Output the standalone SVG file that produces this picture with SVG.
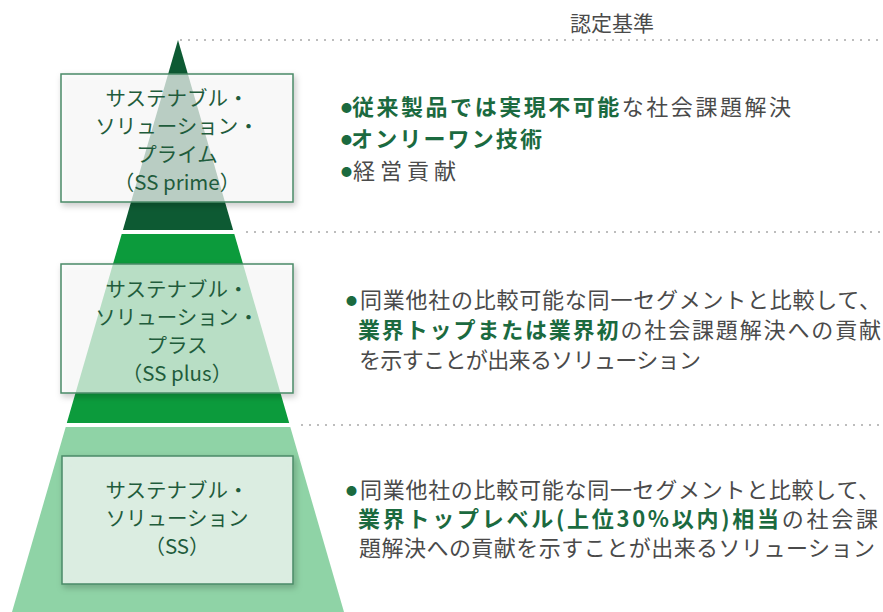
<svg xmlns="http://www.w3.org/2000/svg" width="883" height="612" viewBox="0 0 883 612">
<defs>
<style>
.t{font-family:"Noto Sans CJK JP","Noto Sans",sans-serif;}
.box{fill:#ffffff;fill-opacity:0.68;stroke:#4b8b68;stroke-width:1.5;}
.bt{font-size:20.5px;font-weight:normal;fill:#1f5c3c;text-anchor:middle;}
.rt{font-size:22px;fill:#4a4a4a;}
.b{font-weight:bold;fill:#1b6a3f;}
.bul{font-size:11px;fill:#1b6a3f;}
.dot{stroke:#a8a8a8;stroke-width:1.6;stroke-dasharray:2 6;fill:none;}
</style>
<filter id="sh" x="-10%" y="-10%" width="125%" height="130%">
<feDropShadow dx="2" dy="3" stdDeviation="3" flood-color="#000" flood-opacity="0.28"/>
</filter>
</defs>
<rect width="883" height="612" fill="#ffffff"/>
<g id="pyramid">
<polygon points="178,40 233.1,230 122.9,230" fill="#0d5a33"/>
<polygon points="121.7,234 234.3,234 289.2,423 66.8,423" fill="#0c9b3c"/>
<polygon points="65.7,427 290.3,427 344,612 12,612" fill="#8fd3a6"/>
</g>
<g id="connectors">
<line class="dot" x1="180" y1="40" x2="883" y2="40"/>
<line class="dot" x1="246" y1="232" x2="883" y2="232"/>
<line class="dot" x1="301" y1="425" x2="883" y2="425"/>
</g>
<text id="header" class="t" x="612" y="31" font-size="21" fill="#4a4a4a" text-anchor="middle">認定基準</text>
<g id="node-prime">
<rect class="box" x="61" y="74" width="232" height="128" filter="url(#sh)"/>
<text class="t bt" x="177" y="106">サステナブル・</text>
<text class="t bt" x="177" y="134">ソリューション・</text>
<text class="t bt" x="177" y="162">プライム</text>
<text class="t bt" x="177" y="190">（SS prime）</text>
</g>
<g id="node-plus">
<rect class="box" x="61" y="264" width="232" height="129" filter="url(#sh)"/>
<text class="t bt" x="177" y="297">サステナブル・</text>
<text class="t bt" x="177" y="325">ソリューション・</text>
<text class="t bt" x="177" y="353">プラス</text>
<text class="t bt" x="177" y="381">（SS plus）</text>
</g>
<g id="node-ss">
<rect class="box" x="62" y="456" width="231" height="128" filter="url(#sh)"/>
<text class="t bt" x="177" y="498">サステナブル・</text>
<text class="t bt" x="177" y="526">ソリューション</text>
<text class="t bt" x="177" y="554">（SS）</text>
</g>
<g id="criteria-prime">
<text class="t bul" x="341" y="112">●</text>
<text class="t bul" x="341" y="144">●</text>
<text class="t bul" x="341" y="176">●</text>
<text class="t rt" x="352" y="115" textLength="439" lengthAdjust="spacing"><tspan class="b">従来製品では実現不可能</tspan>な社会課題解決</text>
<text class="t rt b" x="351" y="147" textLength="191" lengthAdjust="spacing">オンリーワン技術</text>
<text class="t rt" x="353" y="179" textLength="103" lengthAdjust="spacing">経営貢献</text>
</g>
<g id="criteria-plus">
<text class="t bul" x="346" y="305">●</text>
<text class="t rt" x="360" y="308" textLength="521" lengthAdjust="spacing">同業他社の比較可能な同一セグメントと比較して、</text>
<text class="t rt" x="358" y="338" textLength="523" lengthAdjust="spacing"><tspan class="b">業界トップまたは業界初</tspan>の社会課題解決への貢献</text>
<text class="t rt" x="359" y="368" textLength="342" lengthAdjust="spacing">を示すことが出来るソリューション</text>
</g>
<g id="criteria-ss">
<text class="t bul" x="346" y="495">●</text>
<text class="t rt" x="360" y="498" textLength="520" lengthAdjust="spacing">同業他社の比較可能な同一セグメントと比較して、</text>
<text class="t rt" x="358" y="527" textLength="520" lengthAdjust="spacing"><tspan class="b">業界トップレベル(上位30%以内)相当</tspan>の社会課</text>
<text class="t rt" x="359" y="556" textLength="516" lengthAdjust="spacing">題解決への貢献を示すことが出来るソリューション</text>
</g>
</svg>
